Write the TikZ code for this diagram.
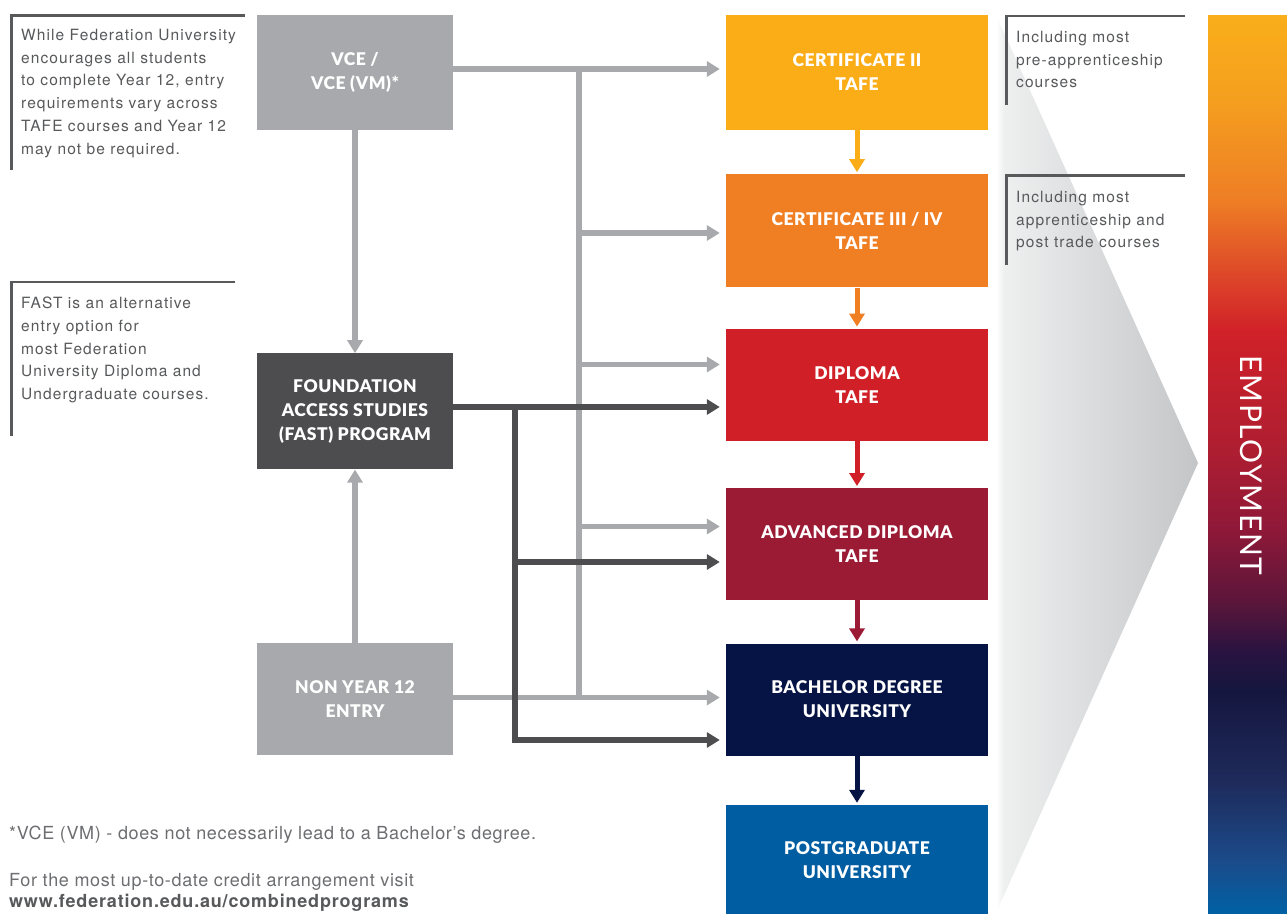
\documentclass[tikz,border=0pt]{standalone}
\usepackage{fontspec}
\setmainfont{TeX Gyre Heros}
\newfontfamily\boxfont{Lato}[LetterSpace=3, BoldFont={Lato Black}]
\newfontfamily\employfont{Lato}[LetterSpace=5.5]
\newfontfamily\notefont{TeX Gyre Heros}[LetterSpace=7]
\newfontfamily\footfont{TeX Gyre Heros}[LetterSpace=3.5]
\newfontfamily\urlfont{TeX Gyre Heros}[LetterSpace=4.5]
\usetikzlibrary{positioning, arrows.meta}

\definecolor{entrygray}{HTML}{A7A9AC}
\definecolor{fastgray}{HTML}{4D4D4F}
\definecolor{notegray}{HTML}{58595B}
\definecolor{footgray}{HTML}{6D6E71}
\definecolor{certtwo}{HTML}{FBAD18}
\definecolor{certthree}{HTML}{F07F24}
\definecolor{diploma}{HTML}{D01F27}
\definecolor{advdip}{HTML}{9B1B35}
\definecolor{bachelor}{HTML}{061445}
\definecolor{postgrad}{HTML}{005DA2}
\definecolor{chevlight}{HTML}{EEEFEF}
\definecolor{chevgray}{HTML}{C4C5C7}

% employment bar colours, top to bottom
\definecolor{empA}{HTML}{F9AE1A}
\definecolor{empB}{HTML}{F59F1F}
\definecolor{empC}{HTML}{EE7E25}
\definecolor{empD}{HTML}{DC4329}
\definecolor{empE}{HTML}{D02128}
\definecolor{empF}{HTML}{AE1E31}
\definecolor{empG}{HTML}{8E1838}
\definecolor{empH}{HTML}{5C163A}
\definecolor{empI}{HTML}{2A1340}
\definecolor{empJ}{HTML}{15163F}
\definecolor{empK}{HTML}{1E2A5A}
\definecolor{empL}{HTML}{1B4B8A}
\definecolor{empM}{HTML}{0061A4}

\pgfdeclareverticalshading{employ}{100bp}{color(0bp)=(empM); color(25bp)=(empM); color(27.9bp)=(empL); color(32.4bp)=(empK); color(37.4bp)=(empJ); color(39.6bp)=(empI); color(42.4bp)=(empH); color(46.3bp)=(empG); color(50.8bp)=(empF); color(57.4bp)=(empE); color(60.2bp)=(empD); color(64.7bp)=(empC); color(70.3bp)=(empB); color(75bp)=(empA); color(100bp)=(empA)}
\pgfdeclarehorizontalshading{chevron}{100bp}{color(0bp)=(white); color(25bp)=(white); color(27bp)=(chevlight); color(75bp)=(chevgray); color(100bp)=(chevgray)}

\begin{document}
\begin{tikzpicture}[x=1pt, y=-1pt,
		stage/.style={minimum width=262pt, inner sep=0pt, align=center, text=white, font=\boxfont\bfseries\fontsize{17.5}{24}\selectfont},
		entry/.style={stage, minimum width=196pt},
		feed/.style={entrygray, line width=5.5pt, -{Triangle[length=13pt, width=15pt]}},
		fastfeed/.style={feed, fastgray},
		climb/.style={line width=5pt, shorten >=2pt, -{Triangle[length=13pt, width=15pt]}},
		note/.style={anchor=north west, inner sep=0pt, align=left, text=notegray, font=\notefont\fontsize{15.5}{22.7}\selectfont},
		bracket/.style={notegray, line width=2.6pt},
		footnote/.style={anchor=base west, inner sep=0pt, text=footgray, font=\footfont\fontsize{18}{21}\selectfont}]
	\fill[white] (0,0) rectangle (1287,913);
	\useasboundingbox (0,0) rectangle (1287,913);

	% chevron and employment bar
	\shade[shading=chevron] (996,15) -- (1198,463) -- (996,913) -- cycle;
	\node[shading=employ, minimum width=79pt, minimum height=898pt, inner sep=0pt] (employbar) at (1247.5,464) {};
	\node[rotate=-90, inner sep=0pt, text=white, font=\employfont\fontsize{30}{30}\selectfont] (employ) at ([xshift=3.5pt, yshift=-1.5pt]employbar.center) {EMPLOYMENT};

	% pathways
	\node[stage, fill=certtwo, minimum height=115pt] (cert2) at (857,72.5) {CERTIFICATE II\\TAFE};
	\node[stage, fill=certthree, minimum height=113pt] (cert34) [below=44pt of cert2] {CERTIFICATE III / IV\\TAFE};
	\node[stage, fill=diploma, minimum height=112pt] (dip) [below=41pt of cert34] {DIPLOMA\\TAFE};
	\node[stage, fill=advdip, minimum height=112pt] (adv) [below=47pt of dip] {ADVANCED DIPLOMA\\TAFE};
	\node[stage, fill=bachelor, minimum height=112pt] (bach) [below=43pt of adv] {BACHELOR DEGREE\\UNIVERSITY};
	\node[stage, fill=postgrad, minimum height=110pt] (post) [below=49pt of bach] {POSTGRADUATE\\UNIVERSITY};

	\draw[climb, certtwo] (cert2) -- (cert34);
	\draw[climb, certthree] (cert34) -- (dip);
	\draw[climb, diploma] (dip) -- (adv);
	\draw[climb, advdip] (adv) -- (bach);
	\draw[climb, bachelor] (bach) -- (post);

	% entry points
	\node[entry, fill=entrygray, minimum height=115pt] (vce) at (355,72.5) {VCE /\\VCE (VM)*};
	\node[entry, fill=fastgray, minimum height=116pt] (fast) [below=223pt of vce] {FOUNDATION\\ACCESS STUDIES\\(FAST) PROGRAM};
	\node[entry, fill=entrygray, minimum height=112pt] (non) [below=173pt of fast] {NON YEAR 12\\ENTRY};

	\coordinate (g0) at (579,69);
	\coordinate (g1) at (579,233);
	\coordinate (g2) at (579,364.5);
	\coordinate (g3) at (579,526.5);
	\coordinate (g4) at (579,697.5);
	\coordinate (d0) at (515,407);
	\coordinate (d1) at (515,562);
	\coordinate (d2) at (515,740);

	\draw[feed] (vce) -- (fast);
	\draw[feed] (non) -- (fast);
	\draw[entrygray, line width=5.5pt] (g0) -- (g4);
	\draw[feed, shorten >=6pt] (vce.east |- g0) -- (g0 -| cert2.west);
	\draw[feed, shorten >=6pt] (g1) -- (g1 -| cert34.west);
	\draw[feed, shorten >=6pt] (g2) -- (g2 -| dip.west);
	\draw[feed, shorten >=6pt] (g3) -- (g3 -| adv.west);
	\draw[feed, shorten >=6pt] (non.east |- g4) -- (g4 -| bach.west);

	\draw[fastfeed, shorten >=6pt] (fast.east |- d0) -- (d0 -| dip.west);
	\draw[fastfeed, shorten >=6pt] (d1) -- (d1 -| adv.west);
	\draw[fastfeed, shorten >=6pt] (d0) |- (d2 -| bach.west);

	% side notes
	\draw[bracket] (245,15.5) -- (11.5,15.5) -- (11.5,170);
	\node[note] (yearnote) at (21,29) {While Federation University\\encourages all students\\to complete Year 12, entry\\requirements vary across\\TAFE courses and Year 12\\may not be required.};
	\draw[bracket] (235,282) -- (11.5,282) -- (11.5,436);
	\node[note] (fastnote) at (21,297) {FAST is an alternative\\entry option for\\most Federation\\University Diploma and\\Undergraduate courses.};
	\draw[bracket] (1185,16) -- (1006.5,16) -- (1006.5,105);
	\node[note] (preapp) at (1016,31) {Including most\\pre-apprenticeship\\courses};
	\draw[bracket] (1185,175.5) -- (1006.5,175.5) -- (1006.5,265);
	\node[note] (trade) at (1016,191) {Including most\\apprenticeship and\\post trade courses};

	\node[footnote] (vmnote) at (9,839) {*VCE (VM) - does not necessarily lead to a Bachelor’s degree.};
	\node[footnote] (visit) at (9,886) {For the most up-to-date credit arrangement visit};
	\node[footnote, font=\urlfont\bfseries\fontsize{18}{21}\selectfont, text=notegray] (url) at (9,907) {www.federation.edu.au/combinedprograms};
\end{tikzpicture}
\end{document}
